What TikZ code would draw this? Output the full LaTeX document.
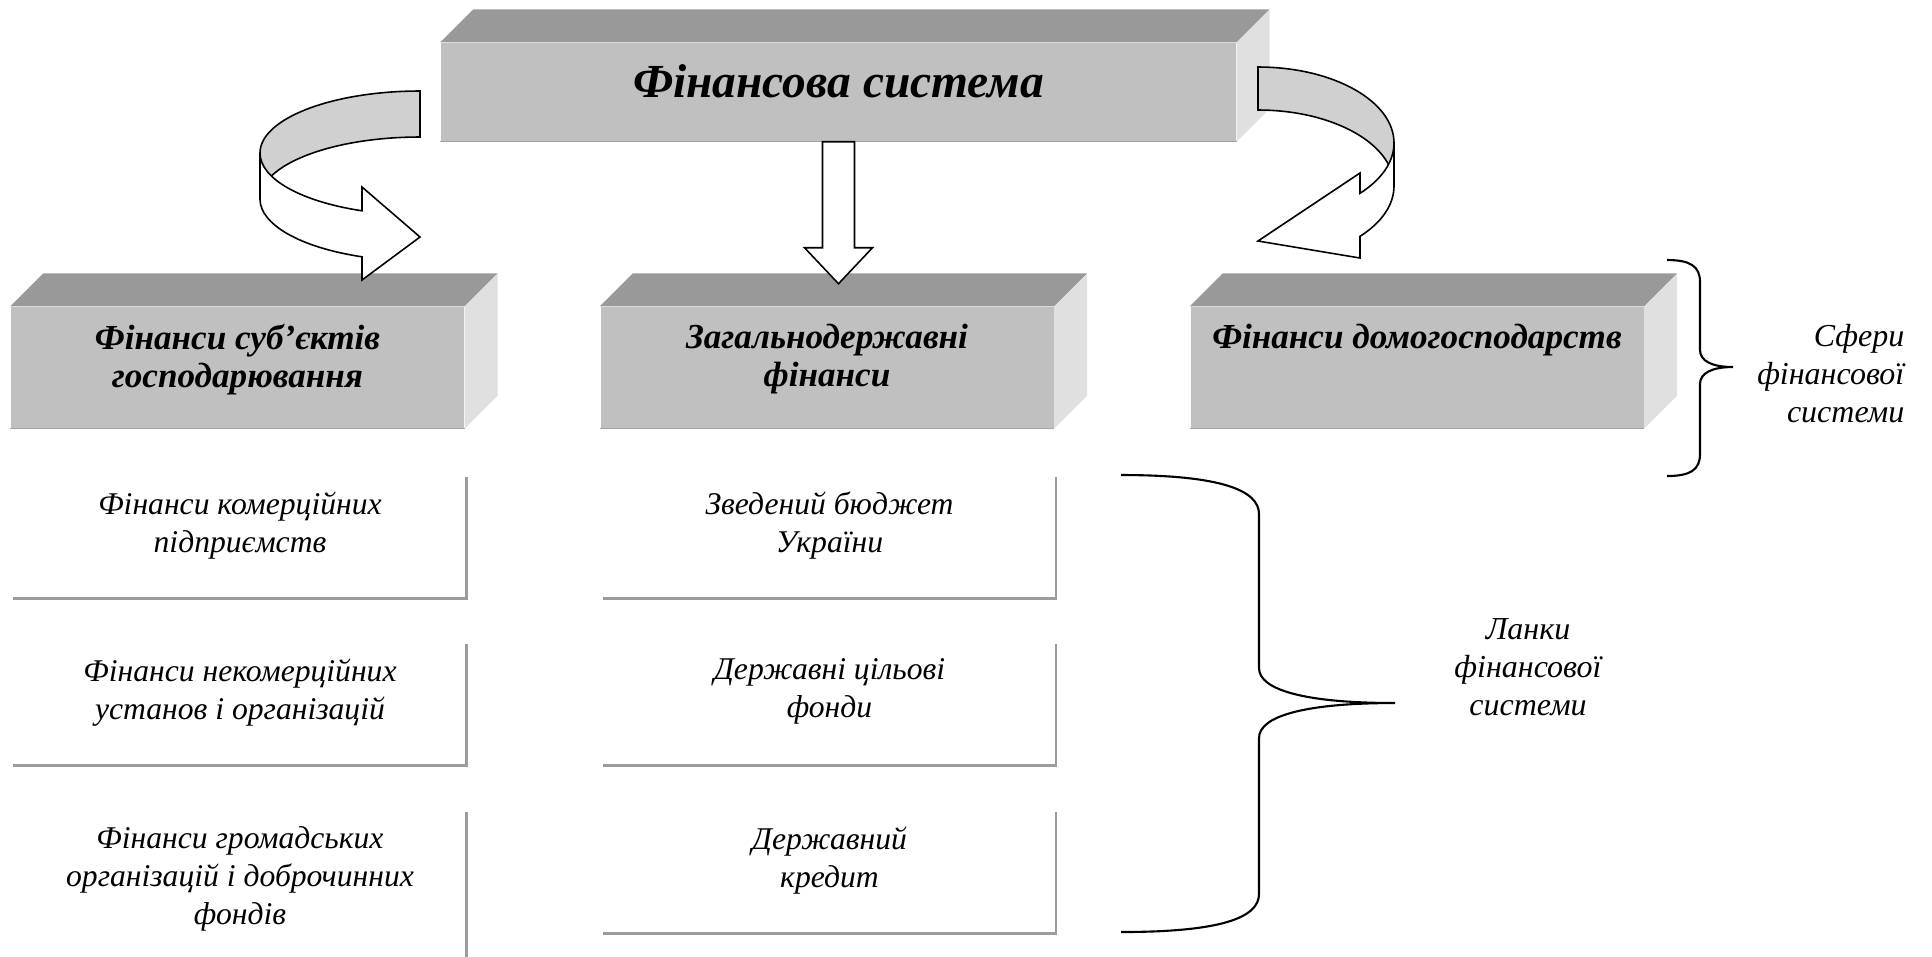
\documentclass[tikz,border=0pt]{standalone}
\usepackage{fontspec}
\setmainfont{Liberation Serif}
\usetikzlibrary{positioning}

\definecolor{topgray}{HTML}{999999}
\definecolor{frontgray}{HTML}{C0C0C0}
\definecolor{sidegray}{HTML}{E0E0E0}
\definecolor{backgray}{HTML}{D0D0D0}
\definecolor{shadowgray}{HTML}{9C9C9C}

\begin{document}
\begin{tikzpicture}[
    x=0.1mm, y=-0.1mm,
    front/.style={fill=frontgray, inner sep=0pt, minimum width=45.3mm, minimum height=12.1mm},
    cell/.style={inner sep=0pt, minimum width=45.2mm, minimum height=12mm},
    headtext/.style={anchor=north, align=center, inner sep=0pt,
        font=\fontsize{10}{10.8}\selectfont\bfseries\itshape},
    celltext/.style={anchor=north, align=center, inner sep=0pt,
        font=\fontsize{9}{10.8}\selectfont\itshape},
    sidetext/.style={inner sep=0pt, font=\fontsize{9.1}{10.8}\selectfont\itshape},
    ribbon/.style={draw=black, line width=0.45pt},
    shadow/.style={draw=shadowgray, line width=0.25mm},
    brace/.style={draw=black, line width=0.6pt}
]
    \useasboundingbox (0,0) rectangle (1932,956);

    \node[front, minimum width=79.5mm, minimum height=9.8mm] (sys) at (838.5,92) {};
    \node[front] (fsub) at (237.5,367.5) {};
    \node[front] (fgov) at (827,367.5) {};
    \node[front] (fhh) at (1417,367.5) {};

    \foreach \b in {sys, fsub, fgov, fhh} {
        \fill[topgray] (\b.north west) -- ++(33,-33) -- ([shift={(33,-33)}]\b.north east) -- (\b.north east) -- cycle;
        \fill[sidegray] (\b.north east) -- ++(33,-33) -- ([shift={(33,-33)}]\b.south east) -- (\b.south east) -- cycle;
        \draw[frontgray!85!black, line width=0.15mm] (\b.south west) -- (\b.south east);
    }

    \node[anchor=base, inner sep=0pt, font=\fontsize{13.5}{16}\selectfont\bfseries\itshape]
        (systext) at ([shift={(0,5)}]sys.center) {Фінансова система};
    \node[headtext] (fsubtext) at ([shift={(0,17)}]fsub.north) {Фінанси суб’єктів\\господарювання};
    \node[headtext] (fgovtext) at ([shift={(0,17)}]fgov.north) {Загальнодержавні\\фінанси};
    \node[headtext] (fhhtext) at ([shift={(0,17)}]fhh.north) {Фінанси домогосподарств};

    \node[cell] (c11) at (240,538) {};
    \node[cell] (c12) at (240,705) {};
    \node[cell, minimum height=14.3mm] (c13) at (240,884.5) {};
    \node[cell] (c21) at (829.5,538) {};
    \node[cell] (c22) at (829.5,705) {};
    \node[cell] (c23) at (829.5,873) {};

    \foreach \c in {c11, c12, c21, c22, c23} {
        \draw[shadow] (\c.north east) -- (\c.south east) -- (\c.south west);
    }
    \draw[shadow] (c13.north east) -- (c13.south east);

    \node[celltext] (t11) at ([shift={(0,14)}]c11.north) {Фінанси комерційних\\підприємств};
    \node[celltext] (t12) at ([shift={(0,14)}]c12.north) {Фінанси некомерційних\\установ і організацій};
    \node[celltext] (t13) at ([shift={(0,14)}]c13.north) {Фінанси громадських\\організацій і доброчинних\\фондів};
    \node[celltext] (t21) at ([shift={(0,14)}]c21.north) {Зведений бюджет\\України};
    \node[celltext] (t22) at ([shift={(0,14)}]c22.north) {Державні цільові\\фонди};
    \node[celltext] (t23) at ([shift={(0,14)}]c23.north) {Державний\\кредит};

    \draw[ribbon, fill=white] ([shift={(-16,0)}]sys.south) -- ++(0,106) -- ++(-18,0)
        -- ([shift={(0,142)}]sys.south) -- ++(34,-36) -- ++(-18,0) -- ([shift={(16,0)}]sys.south) -- cycle;

    \begin{scope}[ribbon]
        \filldraw[fill=backgray] (420,91) arc[start angle=270, end angle=180, x radius=160, y radius=62]
            -- ++(0,46) arc[start angle=180, end angle=270, x radius=160, y radius=62] -- cycle;
        \filldraw[fill=white] (260,153) arc[start angle=180, end angle=111.25, x radius=160, y radius=62]
            -- (362,187) -- (420,237) -- (362,280) -- (362,256.8)
            arc[start angle=111.25, end angle=180, x radius=160, y radius=62] -- cycle;

        \filldraw[fill=backgray] (1258,67) arc[start angle=270, end angle=360, x radius=136, y radius=76]
            -- ++(0,43) arc[start angle=0, end angle=-90, x radius=136, y radius=76] -- cycle;
        \filldraw[fill=white] (1394,143) arc[start angle=0, end angle=41.4, x radius=136, y radius=76]
            -- (1360,173) -- (1258,241) -- (1360,258) -- (1360,236.3)
            arc[start angle=41.4, end angle=0, x radius=136, y radius=76] -- cycle;
    \end{scope}

    \draw[brace] (1667,260) .. controls (1690,260) and (1700,266) .. (1700,282) -- (1700,350)
        .. controls (1700,361) and (1712,367) .. (1733,367)
        .. controls (1712,367) and (1700,373) .. (1700,384) -- (1700,454)
        .. controls (1700,470) and (1690,476) .. (1667,476);
    \draw[brace] (1121,475) .. controls (1220,475) and (1259,490) .. (1259,514) -- (1259,668)
        .. controls (1259,690) and (1305,703) .. (1395,703)
        .. controls (1305,703) and (1259,716) .. (1259,738) -- (1259,894)
        .. controls (1259,918) and (1220,932) .. (1121,932);

    \node[sidetext, align=right, anchor=east] (spheres) at (1905,374) {Сфери\\фінансової\\системи};
    \node[sidetext, align=center] (links) at (1528,667) {Ланки\\фінансової\\системи};
\end{tikzpicture}
\end{document}
